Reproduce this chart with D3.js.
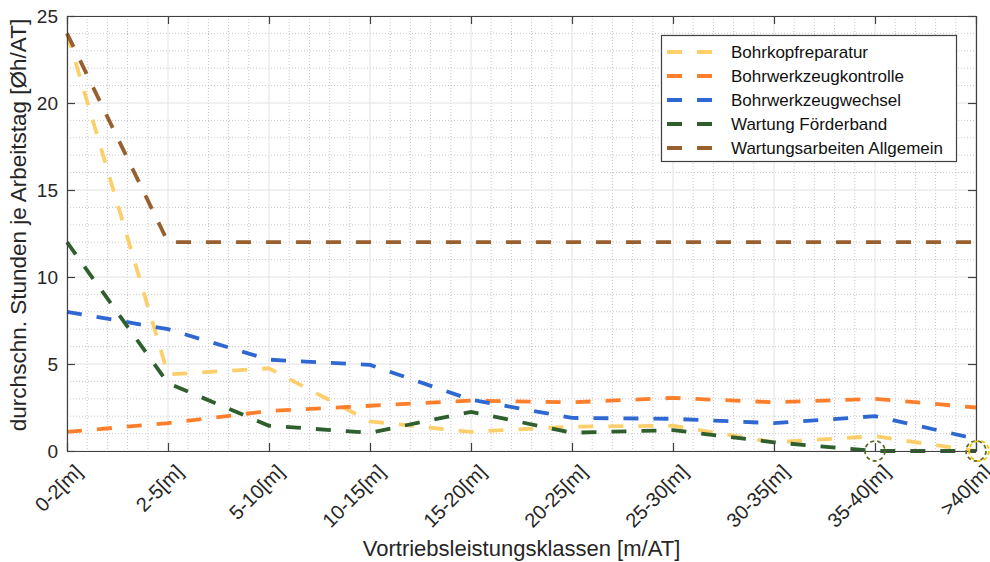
<!DOCTYPE html>
<html>
<head>
<meta charset="utf-8">
<script src="https://cdn.jsdelivr.net/npm/d3@7"></script>
<style>
  html, body { margin: 0; padding: 0; background: #fff; }
  svg { display: block; font-family: "Liberation Sans", Arial, Helvetica, sans-serif; }
</style>
</head>
<body>
<svg id="chart" width="990" height="562"></svg>
<script>
// Performance classes (x axis)
const categories = ["0-2[m]", "2-5[m]", "5-10[m]", "10-15[m]", "15-20[m]",
                    "20-25[m]", "25-30[m]", "30-35[m]", "35-40[m]", ">40[m]"];

// Average hours per working day for each activity
const bohrkopfreparatur        = [24.0, 4.4, 4.75, 1.7, 1.1, 1.4, 1.45, 0.5, 0.85, 0.0];
const bohrwerkzeugkontrolle    = [1.1, 1.6, 2.3, 2.6, 2.9, 2.8, 3.05, 2.8, 3.0, 2.5];
const bohrwerkzeugwechsel      = [8.0, 7.0, 5.25, 4.95, 2.95, 1.9, 1.85, 1.6, 2.0, 0.7];
const wartungFoerderband       = [12.0, 3.9, 1.45, 1.05, 2.25, 1.05, 1.2, 0.5, 0.0, 0.0];
const wartungsarbeitenAllgemein= [24.0, 12.0, 12.0, 12.0, 12.0, 12.0, 12.0, 12.0, 12.0, 12.0];

const seriesNames = ["Bohrkopfreparatur", "Bohrwerkzeugkontrolle", "Bohrwerkzeugwechsel",
                     "Wartung Förderband", "Wartungsarbeiten Allgemein"];
const seriesValues = [bohrkopfreparatur, bohrwerkzeugkontrolle, bohrwerkzeugwechsel,
                      wartungFoerderband, wartungsarbeitenAllgemein];
const seriesColors = ["#fdcf6b", "#fd7f2c", "#2f68d2", "#2e5f2d", "#985f2f"];

const yTicks = [0, 5, 10, 15, 20, 25];

// Zero-value markers: category index and colour
const zeroMarks = [
  { cat: 8, color: "#5b6a2c" },
  { cat: 9, color: "#5b6a2c" },
  { cat: 9, color: "#f2c200", dx: 3 }
];

const svg = d3.select("#chart");
const plotL = 67, plotR = 976, plotT = 16, plotB = 451;

const x = d3.scalePoint().domain(categories).range([plotL, plotR]);
const y = d3.scaleLinear().domain([0, 25]).range([plotB, plotT]);
const xi = d3.scaleLinear().domain([0, categories.length - 1]).range([plotL, plotR]);

// Minor grid (dotted)
const minorX = d3.range(0, categories.length - 1 + 1e-9, 0.2).filter(v => Math.abs(v - Math.round(v)) > 1e-6);
const minorY = d3.range(0, 25.001, 1).filter(v => v % 5 !== 0);
const grid = svg.append("g");
grid.selectAll(".mx").data(minorX).join("line")
  .attr("x1", d => xi(d)).attr("x2", d => xi(d))
  .attr("y1", plotT).attr("y2", plotB)
  .attr("stroke", "#c8c8c8").attr("stroke-width", 1).attr("stroke-dasharray", "1,2");
grid.selectAll(".my").data(minorY).join("line")
  .attr("x1", plotL).attr("x2", plotR)
  .attr("y1", d => y(d)).attr("y2", d => y(d))
  .attr("stroke", "#c8c8c8").attr("stroke-width", 1).attr("stroke-dasharray", "1,2");
// Major grid (solid, light)
grid.selectAll(".gx").data(categories).join("line")
  .attr("x1", d => x(d)).attr("x2", d => x(d))
  .attr("y1", plotT).attr("y2", plotB)
  .attr("stroke", "#e2e2e2").attr("stroke-width", 1);
grid.selectAll(".gy").data(yTicks).join("line")
  .attr("x1", plotL).attr("x2", plotR)
  .attr("y1", d => y(d)).attr("y2", d => y(d))
  .attr("stroke", "#e2e2e2").attr("stroke-width", 1);

// Series lines
const line = d3.line().x((d, i) => x(categories[i])).y(d => y(d));
svg.append("g").selectAll("path").data(seriesValues).join("path")
  .attr("d", d => line(d))
  .attr("fill", "none")
  .attr("stroke", (d, i) => seriesColors[i])
  .attr("stroke-width", 3.8)
  .attr("stroke-dasharray", "15,15");

// Axes with inward ticks on all four sides
const axisColor = "#404040";
const tickLen = 8;
const xAxis = svg.append("g").attr("transform", `translate(0,${plotB})`)
  .call(d3.axisBottom(x).tickSizeInner(-tickLen).tickSizeOuter(0));
const xTop = svg.append("g").attr("transform", `translate(0,${plotT})`)
  .call(d3.axisTop(x).tickSizeInner(-tickLen).tickSizeOuter(0).tickFormat(""));
const yAxis = svg.append("g").attr("transform", `translate(${plotL},0)`)
  .call(d3.axisLeft(y).tickValues(yTicks).tickSizeInner(-tickLen).tickSizeOuter(0).tickPadding(9));
const yRight = svg.append("g").attr("transform", `translate(${plotR},0)`)
  .call(d3.axisRight(y).tickValues(yTicks).tickSizeInner(-tickLen).tickSizeOuter(0).tickFormat(""));

[xAxis, xTop, yAxis, yRight].forEach(g => {
  g.select(".domain").attr("stroke", axisColor).attr("stroke-width", 1.2);
  g.selectAll(".tick line").attr("stroke", axisColor).attr("stroke-width", 1.2);
});
yAxis.selectAll(".tick text")
  .attr("font-size", 19).attr("fill", "#262626")
  .attr("font-family", "Liberation Sans, Arial, sans-serif");
// Rotated category labels, right end anchored just below each tick
xAxis.selectAll(".tick text")
  .attr("font-size", 20).attr("fill", "#262626")
  .attr("font-family", "Liberation Sans, Arial, sans-serif")
  .attr("text-anchor", "end")
  .attr("x", 0).attr("y", 0)
  .attr("dy", "0.35em")
  .attr("transform", "translate(11,17) rotate(-45)");

// Dashed circles marking zero values
svg.append("g").selectAll("circle").data(zeroMarks).join("circle")
  .attr("cx", d => xi(d.cat) + (d.dx || 0))
  .attr("cy", y(0))
  .attr("r", 10)
  .attr("fill", "none")
  .attr("stroke", d => d.color)
  .attr("stroke-width", 1.8)
  .attr("stroke-dasharray", "4,3");

// Axis titles
svg.append("text")
  .attr("x", (plotL + plotR) / 2).attr("y", 556)
  .attr("text-anchor", "middle")
  .attr("font-size", 22).attr("fill", "#262626")
  .text("Vortriebsleistungsklassen [m/AT]");
svg.append("text")
  .attr("transform", `translate(25.5,225) rotate(-90)`)
  .attr("text-anchor", "middle")
  .attr("font-size", 22.5).attr("fill", "#262626")
  .text("durchschn. Stunden je Arbeitstag [Øh/AT]");

// Legend
const lg = svg.append("g");
lg.append("rect")
  .attr("x", 661.5).attr("y", 35.5).attr("width", 295).attr("height", 126)
  .attr("fill", "#fff").attr("stroke", "#404040").attr("stroke-width", 1.2);
const rows = lg.selectAll(".row").data(seriesNames).join("g")
  .attr("transform", (d, i) => `translate(0,${52 + i * 24})`);
rows.append("line")
  .attr("x1", 667).attr("x2", 712).attr("y1", 0).attr("y2", 0)
  .attr("stroke", (d, i) => seriesColors[i])
  .attr("stroke-width", 3.8)
  .attr("stroke-dasharray", "15,15");
rows.append("text")
  .attr("x", 731).attr("y", 0).attr("dy", "0.35em")
  .attr("font-size", 17).attr("fill", "#111")
  .text(d => d);
</script>
</body>
</html>
